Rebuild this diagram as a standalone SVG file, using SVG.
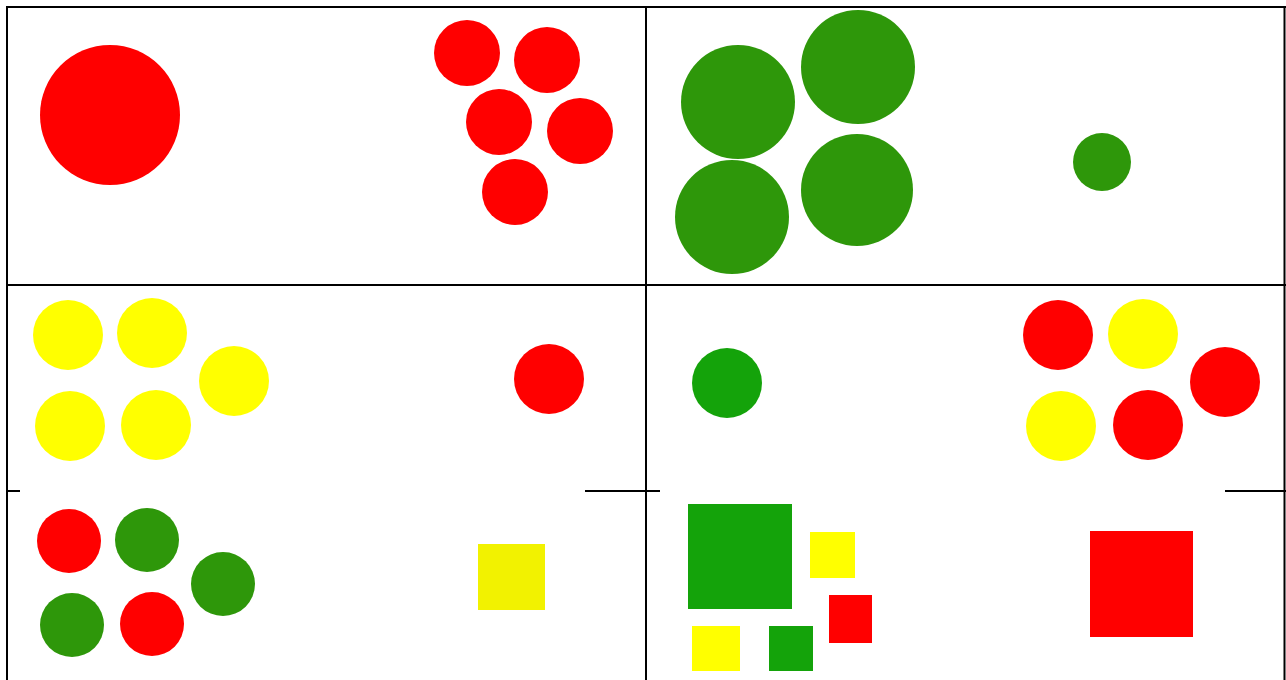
<svg xmlns="http://www.w3.org/2000/svg" width="1286" height="680" viewBox="0 0 1286 680">
<style>
.ln{stroke:#000;stroke-width:2;fill:none}
.r{fill:#ff0000}
.g1{fill:#2e970a}
.g2{fill:#14a30a}
.y{fill:#ffff00}
.ys{fill:#f2f200}
</style>
<rect width="1286" height="680" fill="#fff"/>
<g id="grid">
<line class="ln" x1="7" y1="7" x2="1286" y2="7"/>
<line class="ln" x1="7" y1="6" x2="7" y2="680"/>
<line class="ln" x1="646" y1="6" x2="646" y2="680"/>
<line class="ln" x1="1284.5" y1="7" x2="1284.5" y2="680"/>
<line class="ln" x1="7" y1="285" x2="1286" y2="285"/>
<line class="ln" x1="7" y1="491" x2="20" y2="491"/>
<line class="ln" x1="585" y1="491" x2="660" y2="491"/>
<line class="ln" x1="1225" y1="491" x2="1286" y2="491"/>
</g>
<g id="cell1">
<circle class="r" cx="110" cy="115" r="70"/>
<circle class="r" cx="467" cy="53" r="33"/>
<circle class="r" cx="547" cy="60" r="33"/>
<circle class="r" cx="499" cy="122" r="33"/>
<circle class="r" cx="580" cy="131" r="33"/>
<circle class="r" cx="515" cy="192" r="33"/>
</g>
<g id="cell2">
<circle class="g1" cx="738" cy="102" r="57"/>
<circle class="g1" cx="858" cy="67" r="57"/>
<circle class="g1" cx="732" cy="217" r="57"/>
<circle class="g1" cx="857" cy="190" r="56"/>
<circle class="g1" cx="1102" cy="162" r="29"/>
</g>
<g id="cell3">
<circle class="y" cx="68" cy="335" r="35"/>
<circle class="y" cx="152" cy="333" r="35"/>
<circle class="y" cx="234" cy="381" r="35"/>
<circle class="y" cx="70" cy="426" r="35"/>
<circle class="y" cx="156" cy="425" r="35"/>
<circle class="r" cx="549" cy="379" r="35"/>
</g>
<g id="cell4">
<circle class="g2" cx="727" cy="383" r="35"/>
<circle class="r" cx="1058" cy="335" r="35"/>
<circle class="y" cx="1143" cy="334" r="35"/>
<circle class="r" cx="1225" cy="382" r="35"/>
<circle class="y" cx="1061" cy="426" r="35"/>
<circle class="r" cx="1148" cy="425" r="35"/>
</g>
<g id="cell5">
<circle class="r" cx="69" cy="541" r="32"/>
<circle class="g1" cx="147" cy="540" r="32"/>
<circle class="g1" cx="223" cy="584" r="32"/>
<circle class="g1" cx="72" cy="625" r="32"/>
<circle class="r" cx="152" cy="624" r="32"/>
<rect class="ys" x="478" y="544" width="67" height="66"/>
</g>
<g id="cell6">
<rect class="g2" x="688" y="504" width="104" height="105"/>
<rect class="y" x="810" y="532" width="45" height="46"/>
<rect class="r" x="829" y="595" width="43" height="48"/>
<rect class="y" x="692" y="626" width="48" height="45"/>
<rect class="g2" x="769" y="626" width="44" height="45"/>
<rect class="r" x="1090" y="531" width="103" height="106"/>
</g>
</svg>
